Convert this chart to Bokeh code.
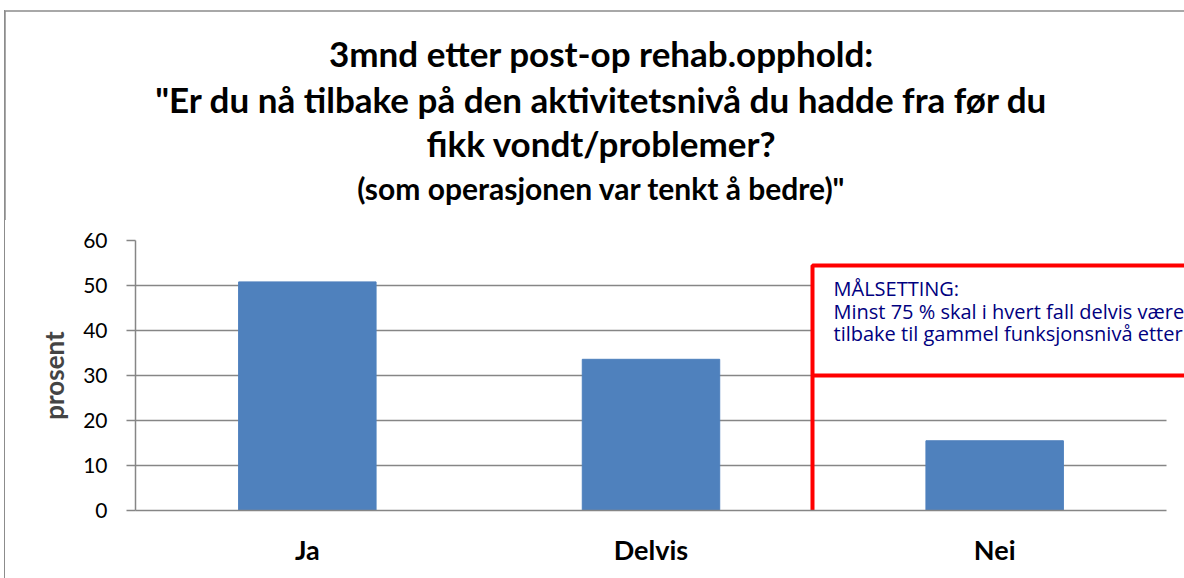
from bokeh.plotting import figure
from bokeh.layouts import column, row
from bokeh.models import Range1d, Label, BoxAnnotation, FixedTicker, Div
from bokeh.embed import file_html
from bokeh.resources import INLINE

categories = ["Ja", "Delvis", "Nei"]
values = [50.8, 33.6, 15.5]
y_ticks = [0, 10, 20, 30, 40, 50, 60]

title_lines = [
    "3mnd etter post-op rehab.opphold:",
    "\"Er du nå tilbake på den aktivitetsnivå du hadde fra før du",
    "fikk vondt/problemer?",
    "(som operasjonen var tenkt å bedre)\"",
]
goal_lines = [
    "MÅLSETTING:",
    "Minst 75 % skal i hvert fall delvis være",
    "tilbake til gammel funksjonsnivå etter",
]

GRID = "#868686"
BORDER = "#8C8C8C"
FONT = "Lato"
W, H = 1184, 578
TOP_H = 220                   # height of the title strip
STRIP_W = 8                   # narrow strip carrying the left border line
LEFT, BOTTOM = 135, 68        # page x of the value axis, bottom border
FRAME_TOP = 240
PX_PER_CAT = 1031 / 3.0
PX_PER_UNIT = 4.5

n = len(categories)
x_pos = [i + 0.5 for i in range(n)]

def dy(py):
    return (H - BOTTOM - py) / PX_PER_UNIT

def dx(px):
    return (px - LEFT) / PX_PER_CAT

LINE_BG = (f"linear-gradient(to right, transparent 3.75px, {BORDER} 3.75px, "
           f"{BORDER} 5.25px, transparent 5.25px)")

# ---------------- title strip ----------------
t = figure(width=W, height=TOP_H, x_range=Range1d(0, W), y_range=Range1d(TOP_H, 0),
           x_axis_location=None, y_axis_location=None,
           output_backend="svg", toolbar_location=None,
           min_border_left=0, min_border_right=0, min_border_top=0, min_border_bottom=0)
t.outline_line_color = None
t.background_fill_color = None
t.border_fill_color = None
t.xgrid.grid_line_color = None
t.ygrid.grid_line_color = None
t.add_layout(BoxAnnotation(left=4.5, right=W + 50, top=10.5, bottom=TOP_H + 50,
                           fill_alpha=0, line_color=BORDER, line_alpha=1.0, line_width=1.5))
title_base = [65.7, 111.7, 155.5, 198.3]
title_sizes = [35, 35, 35, 30]
for txt, yy, fs in zip(title_lines, title_base, title_sizes):
    t.add_layout(Label(x=601, y=yy - 0.37 * fs, text=txt, text_align="center",
                       text_baseline="alphabetic", text_font=FONT,
                       text_font_style="bold", text_font_size=f"{fs}px",
                       text_color="black"))

# ---------------- left border strip (continues the chart-area border) ----------------
s = Div(text="", width=STRIP_W, height=H - TOP_H, margin=0,
        styles={"background": LINE_BG})

# ---------------- chart ----------------
p = figure(
    width=W - STRIP_W, height=H - TOP_H,
    x_range=Range1d(0, (W - LEFT) / PX_PER_CAT),
    y_range=Range1d(0, 60),
    output_backend="svg", toolbar_location=None,
    min_border_left=LEFT - STRIP_W, min_border_right=0,
    min_border_top=FRAME_TOP - TOP_H, min_border_bottom=BOTTOM,
)
p.outline_line_color = None
p.background_fill_color = "white"
p.border_fill_color = "white"

p.vbar(x=x_pos, top=values, width=0.4, color="#4F81BD", line_color="#4F81BD")

p.yaxis.ticker = FixedTicker(ticks=y_ticks)
p.yaxis.axis_line_color = GRID
p.yaxis.axis_line_width = 1.5
p.yaxis.major_tick_line_color = GRID
p.yaxis.major_tick_line_width = 1.5
p.yaxis.major_tick_out = 9
p.yaxis.major_tick_in = 0
p.yaxis.minor_tick_line_color = None
p.yaxis.major_label_text_font = FONT
p.yaxis.major_label_text_font_size = "21px"
p.yaxis.major_label_text_color = "black"
p.yaxis.major_label_standoff = 19
p.yaxis.axis_label = "prosent"
p.yaxis.axis_label_text_font = FONT
p.yaxis.axis_label_text_font_style = "bold"
p.yaxis.axis_label_text_font_size = "26px"
p.yaxis.axis_label_standoff = 10

p.xaxis.ticker = FixedTicker(ticks=x_pos)
p.xaxis.major_label_overrides = {x: c for x, c in zip(x_pos, categories)}
p.xaxis.bounds = (0, n)
p.xaxis.axis_line_color = GRID
p.xaxis.axis_line_width = 1.5
p.xaxis.major_tick_line_color = None
p.xaxis.minor_tick_line_color = None
p.xaxis.major_label_text_font = FONT
p.xaxis.major_label_text_font_style = "bold"
p.xaxis.major_label_text_font_size = "27px"
p.xaxis.major_label_text_color = "black"
p.xaxis.major_label_standoff = 16

p.xgrid.grid_line_color = None
yg = p.ygrid[0]
yg.grid_line_color = GRID
yg.grid_line_width = 1.5
yg.ticker = FixedTicker(ticks=y_ticks)
if "cross_bounds" in yg.properties():
    yg.cross_bounds = (0, n)

# goal box
p.add_layout(BoxAnnotation(left=dx(812), right=n + 1, top=dy(265), bottom=30.0,
                           fill_color="white", fill_alpha=1.0,
                           line_color="#FF0000", line_alpha=1.0, line_width=4))
p.segment(x0=[dx(812)], y0=[30.0], x1=[dx(812)], y1=[-1.0],
          line_color="#FF0000", line_width=4)
goal_base = [297.3, 320, 341.7]
for txt, yy in zip(goal_lines, goal_base):
    p.add_layout(Label(x=dx(833), y=dy(yy - 0.45 * 20), text=txt, text_align="left",
                       text_baseline="alphabetic", text_font="Open Sans",
                       text_font_size="20px", text_color="#000080"))

layout = column(t, row(s, p),
                styles={"background-color": "white",
                        "background-image": LINE_BG,
                        "background-repeat": "no-repeat",
                        "background-position": "0px 10px",
                        "background-size": "100% 100%"})
open("out.html", "w").write(file_html(layout, INLINE))
